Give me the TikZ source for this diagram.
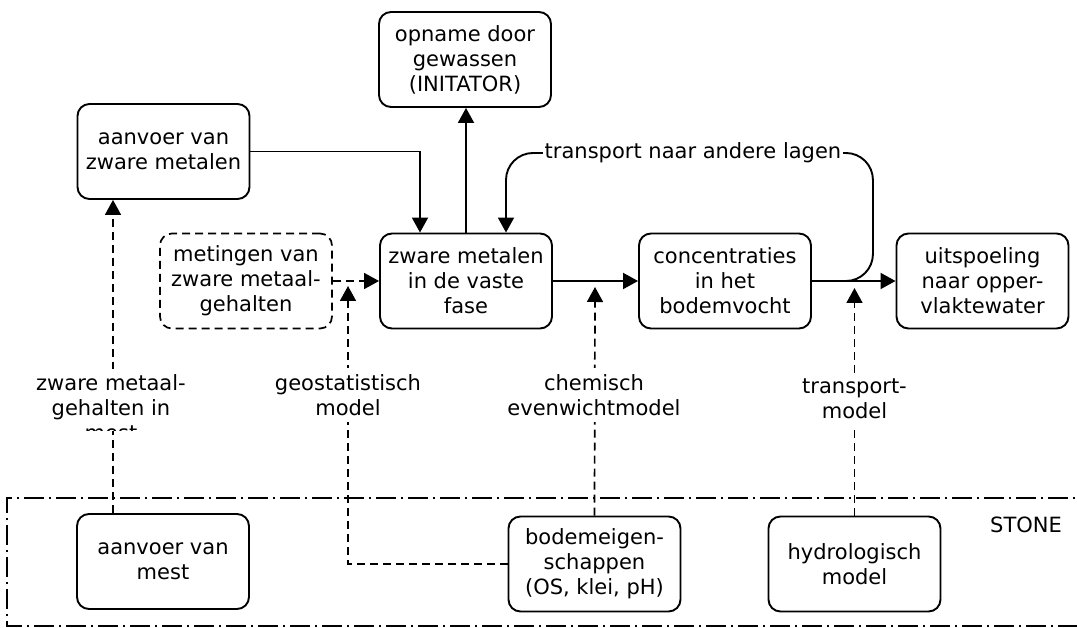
\documentclass[tikz,border=0pt]{standalone}
\usepackage{fontspec}
\setmainfont{DejaVu Sans}
\usetikzlibrary{arrows.meta,calc}
\begin{document}
\begin{tikzpicture}[x=1pt,y=-1pt,
  every node/.style={font=\fontsize{21}{25}\selectfont},
  box/.style={draw,line width=1.9pt,rounded corners=12pt,minimum width=172pt,minimum height=95pt,align=center,inner sep=2pt},
  dbox/.style={box,line width=1.7pt,dash pattern=on 8pt off 5pt},
  lab/.style={fill=white,align=center,inner xsep=2pt,inner ysep=6pt},
  arr/.style={line width=1.9pt,-{Triangle[length=15pt,width=16pt]}},
  darr/.style={line width=1.7pt,dash pattern=on 8pt off 5pt,-{Triangle[length=15pt,width=16pt]}},
  zone/.style={line width=1.6pt,dash pattern=on 20pt off 5pt on 2pt off 5pt}]
\clip (0,0) rectangle (1077,628);
% STONE zone
\draw[zone] (1100,498) -- (7,498) -- (7,626) -- (1100,626);
% boxes
\node[box] (azm) at (163.5,151.5) {aanvoer van\\zware metalen};
\node[box] (opn) at (465,59.5) {opname door\\gewassen\\(INITATOR)};
\node[dbox] (met) at (246,281) {metingen van\\zware metaal-\\gehalten};
\node[box] (vas) at (466,281) {zware metalen\\in de vaste\\fase};
\node[box] (con) at (725,281) {concentraties\\in het\\bodemvocht};
\node[box] (uit) at (982.5,281) {uitspoeling\\naar opper-\\vlaktewater};
\node[box] (mest) at (163,561.5) {aanvoer van\\mest};
\node[box] (bod) at (594.5,564) {bodemeigen-\\schappen\\(OS, klei, pH)};
\node[box] (hyd) at (854.5,564) {hydrologisch\\model};
\node (stone) at (1026,525) {STONE};
% free ends of the model arrows
\coordinate (geoT) at (348,286);
\coordinate (chemT) at (595,287);
\coordinate (trT) at (854.5,288);
% solid connectors
\draw[arr] (azm.east) -| ([xshift=-46pt]vas.north);
\draw[arr] (vas.north) -- (vas.north |- opn.south);
\draw[arr] (vas.east) -- (con.west);
\draw[arr] (con.east) -- (uit.west);
\draw[arr,rounded corners=27pt] (con.east) -- ++(61,0) -- ++(0,-128) -| ([xshift=40pt]vas.north);
\node[fill=white,inner xsep=2pt,inner ysep=1pt] (tlab) at (693,153) {transport naar andere lagen};
% dashed connectors
\draw[darr] (met.east) -- (vas.west);
\draw[darr] ([xshift=-50pt]mest.north) -- ([xshift=-50pt]mest.north |- azm.south);
\draw[darr] (bod.west) -| (geoT);
\draw[darr] (bod.north) -- (chemT);
\draw[darr] (hyd.north) -- (trT);
% labels on the dashed connectors
\begin{scope}
\clip (0,362) rectangle (300,430);
\node[lab] (l1) at (111,408) {zware metaal-\\gehalten in\\mest};
\end{scope}
\node[lab] (l2) at (348,395) {geostatistisch\\model};
\node[lab] (l3) at (594,395) {chemisch\\evenwichtmodel};
\node[lab] (l4) at (854.5,399) {transport-\\model};
\end{tikzpicture}
\end{document}
